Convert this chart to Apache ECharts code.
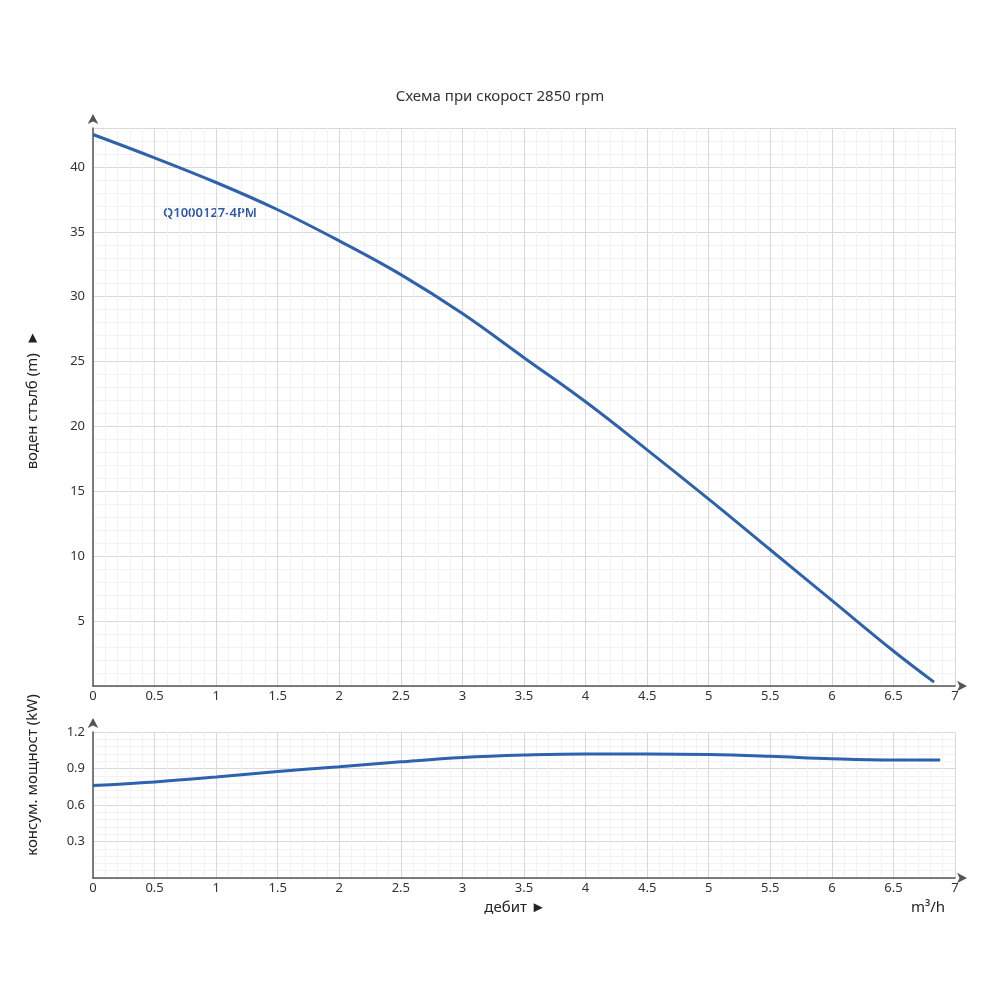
<!DOCTYPE html>
<html><head><meta charset="utf-8">
<script src="https://cdn.jsdelivr.net/npm/echarts@6/dist/echarts.min.js"></script>
<style>html,body{margin:0;padding:0;background:#fff}#main{width:1000px;height:1000px}</style>
</head><body><div id="main"></div>
<script>
// flow m3/h vs head m
let headFlow = [0, 0.5, 1, 1.5, 2, 2.5, 3, 3.5, 4, 4.5, 5, 5.5, 6, 6.5, 6.83];
let headVals = [42.5, 40.7, 38.8, 36.7, 34.3, 31.7, 28.7, 25.3, 21.9, 18.2, 14.4, 10.5, 6.6, 2.7, 0.3];
// flow vs power kW
let powerFlow = [0, 0.5, 1, 1.5, 2, 2.5, 3, 3.5, 4, 4.5, 5, 5.5, 6, 6.5, 6.88];
let powerVals = [0.76, 0.79, 0.83, 0.875, 0.915, 0.955, 0.99, 1.01, 1.02, 1.02, 1.015, 1.0, 0.98, 0.97, 0.97];

let chartDom = document.getElementById('main');
let myChart = echarts.init(chartDom);
let FONT = 'Noto Sans';
let blue = '#2e62ad';

function xAxis(idx) {
    return {
        gridIndex: idx, type: 'value', min: 0, max: 7, interval: 0.5,
        axisLine: { lineStyle: { color: '#555', width: 1.5 }, symbol: ['none', 'arrow'], symbolSize: [8, 10], symbolOffset: [0, 12] },
        axisTick: { show: false },
        axisLabel: { color: '#333', fontFamily: FONT, fontSize: 13, margin: 4 },
        splitLine: { lineStyle: { color: '#d9d9d9', width: 1 } },
        minorTick: { show: false, splitNumber: 5 },
        minorSplitLine: { show: true, lineStyle: { color: '#f2f2f2' } }
    };
}
function yAxis(idx, max, interval) {
    return {
        gridIndex: idx, type: 'value', min: 0, max: max, interval: interval,
        axisLine: { show: true, lineStyle: { color: '#555', width: 1.5 }, symbol: ['none', 'arrow'], symbolSize: [8, 10], symbolOffset: [0, 14] },
        axisTick: { show: false },
        axisLabel: { color: '#333', fontFamily: FONT, fontSize: 13, showMinLabel: false, showMaxLabel: idx === 1 },
        splitLine: { lineStyle: { color: '#d9d9d9', width: 1 } },
        minorTick: { show: false, splitNumber: 5 },
        minorSplitLine: { show: true, lineStyle: { color: '#f2f2f2' } }
    };
}
function pairs(xs, ys) { return xs.map(function (x, i) { return [x, ys[i]]; }); }

let option = {
    backgroundColor: '#fff',
    animation: false,
    title: { text: 'Схема при скорост 2850 rpm', left: 'center', top: 84,
        textStyle: { fontFamily: FONT, fontSize: 15, fontWeight: 'normal', color: '#333' } },
    grid: [
        { left: 93, right: 45, top: 128, height: 558 },
        { left: 93, right: 45, top: 732, height: 146 }
    ],
    xAxis: [xAxis(0), xAxis(1)],
    yAxis: [yAxis(0, 43, 5), yAxis(1, 1.2, 0.3)],
    series: [
        { type: 'line', xAxisIndex: 0, yAxisIndex: 0, smooth: 0.4, showSymbol: false,
          lineStyle: { color: blue, width: 3 }, data: pairs(headFlow, headVals) },
        { type: 'line', xAxisIndex: 1, yAxisIndex: 1, smooth: 0.4, showSymbol: false,
          lineStyle: { color: blue, width: 3 }, data: pairs(powerFlow, powerVals) }
    ],
    graphic: [
        { type: 'text', left: 163, top: 207, style: { text: 'Q1000127-4PM', fill: '#2d5aa8', font: '600 13px "Noto Sans"' } },
        { type: 'text', x: 33, y: 400, rotation: Math.PI / 2, style: { text: 'воден стълб (m)  ►', fill: '#222', font: '15px "Noto Sans"', align: 'center', verticalAlign: 'middle' } },
        { type: 'text', x: 33, y: 775, rotation: Math.PI / 2, style: { text: 'консум. мощност (kW)', fill: '#222', font: '15px "Noto Sans"', align: 'center', verticalAlign: 'middle' } },
        { type: 'text', x: 515, y: 908, style: { text: 'дебит ►', fill: '#222', font: '15px "Noto Sans"', align: 'center', verticalAlign: 'middle' } },
        { type: 'text', x: 928, y: 908, style: { text: 'm³/h', fill: '#222', font: '15px "Noto Sans"', align: 'center', verticalAlign: 'middle' } }
    ]
};
myChart.setOption(option);
</script></body></html>
